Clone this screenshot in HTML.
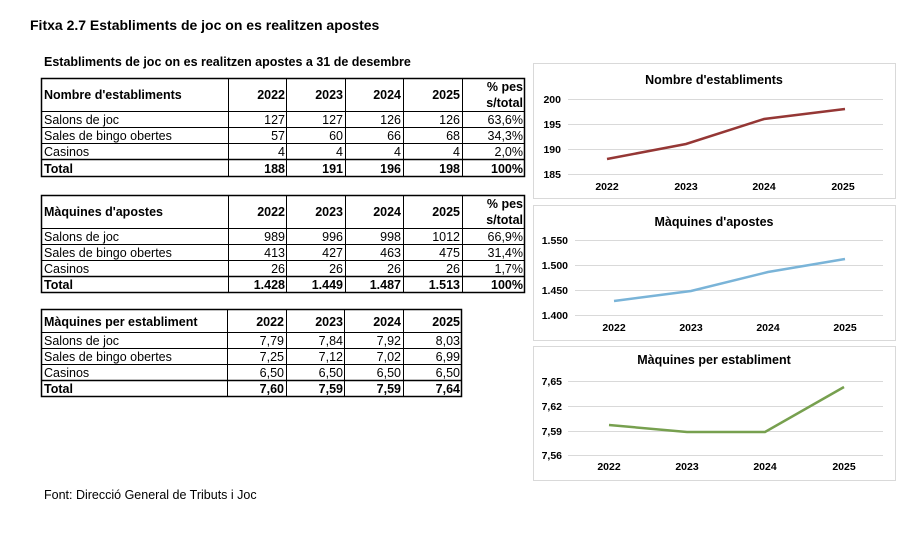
<!DOCTYPE html>
<html><head><meta charset="utf-8"><style>
html,body{margin:0;padding:0;background:#fff}
svg{display:block}
text{font-family:"Liberation Sans",Arial,sans-serif;fill:#000}
</style></head><body>
<svg width="918" height="543" viewBox="0 0 918 543" xmlns="http://www.w3.org/2000/svg">
<text x="30" y="30" font-size="14" font-weight="bold">Fitxa 2.7 Establiments de joc on es realitzen apostes</text>
<text x="44" y="66" font-size="12.5" font-weight="bold">Establiments de joc on es realitzen apostes a 31 de desembre</text>

<!-- Table 1 -->
<g stroke="#000" fill="none">
<rect x="41.5" y="78.5" width="483" height="98" stroke-width="1.5"/>
<line x1="41" y1="111.5" x2="525" y2="111.5"/>
<line x1="41" y1="127.5" x2="525" y2="127.5"/>
<line x1="41" y1="143.5" x2="525" y2="143.5"/>
<line x1="41" y1="159.5" x2="525" y2="159.5" stroke-width="1.5"/>
<line x1="228.5" y1="78" x2="228.5" y2="177"/>
<line x1="286.5" y1="78" x2="286.5" y2="177"/>
<line x1="345.5" y1="78" x2="345.5" y2="177"/>
<line x1="403.5" y1="78" x2="403.5" y2="177"/>
<line x1="462.5" y1="78" x2="462.5" y2="177"/>
</g>
<g font-size="12.5">
<text x="44" y="99" font-weight="bold">Nombre d'establiments</text>
<g font-weight="bold" text-anchor="end"><text x="285" y="99">2022</text><text x="343" y="99">2023</text><text x="401" y="99">2024</text><text x="460" y="99">2025</text><text x="523" y="91">% pes</text><text x="523" y="107">s/total</text></g>
<text x="44" y="124">Salons de joc</text>
<g text-anchor="end"><text x="285" y="124">127</text><text x="343" y="124">127</text><text x="401" y="124">126</text><text x="460" y="124">126</text><text x="523" y="124">63,6%</text></g>
<text x="44" y="140">Sales de bingo obertes</text>
<g text-anchor="end"><text x="285" y="140">57</text><text x="343" y="140">60</text><text x="401" y="140">66</text><text x="460" y="140">68</text><text x="523" y="140">34,3%</text></g>
<text x="44" y="156">Casinos</text>
<g text-anchor="end"><text x="285" y="156">4</text><text x="343" y="156">4</text><text x="401" y="156">4</text><text x="460" y="156">4</text><text x="523" y="156">2,0%</text></g>
<text x="44" y="173" font-weight="bold">Total</text>
<g text-anchor="end" font-weight="bold"><text x="285" y="173">188</text><text x="343" y="173">191</text><text x="401" y="173">196</text><text x="460" y="173">198</text><text x="523" y="173">100%</text></g>
</g>

<!-- Table 2 -->
<g stroke="#000" fill="none">
<rect x="41.5" y="195.5" width="483" height="97" stroke-width="1.5"/>
<line x1="41" y1="228.5" x2="525" y2="228.5"/>
<line x1="41" y1="244.5" x2="525" y2="244.5"/>
<line x1="41" y1="260.5" x2="525" y2="260.5"/>
<line x1="41" y1="276.5" x2="525" y2="276.5" stroke-width="1.5"/>
<line x1="228.5" y1="195" x2="228.5" y2="293"/>
<line x1="286.5" y1="195" x2="286.5" y2="293"/>
<line x1="345.5" y1="195" x2="345.5" y2="293"/>
<line x1="403.5" y1="195" x2="403.5" y2="293"/>
<line x1="462.5" y1="195" x2="462.5" y2="293"/>
</g>
<g font-size="12.5">
<text x="44" y="216" font-weight="bold">Màquines d'apostes</text>
<g font-weight="bold" text-anchor="end"><text x="285" y="216">2022</text><text x="343" y="216">2023</text><text x="401" y="216">2024</text><text x="460" y="216">2025</text><text x="523" y="208">% pes</text><text x="523" y="224">s/total</text></g>
<text x="44" y="241">Salons de joc</text>
<g text-anchor="end"><text x="285" y="241">989</text><text x="343" y="241">996</text><text x="401" y="241">998</text><text x="460" y="241">1012</text><text x="523" y="241">66,9%</text></g>
<text x="44" y="257">Sales de bingo obertes</text>
<g text-anchor="end"><text x="285" y="257">413</text><text x="343" y="257">427</text><text x="401" y="257">463</text><text x="460" y="257">475</text><text x="523" y="257">31,4%</text></g>
<text x="44" y="273">Casinos</text>
<g text-anchor="end"><text x="285" y="273">26</text><text x="343" y="273">26</text><text x="401" y="273">26</text><text x="460" y="273">26</text><text x="523" y="273">1,7%</text></g>
<text x="44" y="289" font-weight="bold">Total</text>
<g text-anchor="end" font-weight="bold"><text x="285" y="289">1.428</text><text x="343" y="289">1.449</text><text x="401" y="289">1.487</text><text x="460" y="289">1.513</text><text x="523" y="289">100%</text></g>
</g>

<!-- Table 3 -->
<g stroke="#000" fill="none">
<rect x="41.5" y="309.5" width="420" height="87" stroke-width="1.5"/>
<line x1="41" y1="332.5" x2="462" y2="332.5"/>
<line x1="41" y1="348.5" x2="462" y2="348.5"/>
<line x1="41" y1="364.5" x2="462" y2="364.5"/>
<line x1="41" y1="380.5" x2="462" y2="380.5" stroke-width="1.5"/>
<line x1="227.5" y1="309" x2="227.5" y2="397"/>
<line x1="286.5" y1="309" x2="286.5" y2="397"/>
<line x1="344.5" y1="309" x2="344.5" y2="397"/>
<line x1="403.5" y1="309" x2="403.5" y2="397"/>
</g>
<g font-size="12.5">
<text x="44" y="326" font-weight="bold">Màquines per establiment</text>
<g font-weight="bold" text-anchor="end"><text x="284" y="326">2022</text><text x="343" y="326">2023</text><text x="401" y="326">2024</text><text x="460" y="326">2025</text></g>
<text x="44" y="345">Salons de joc</text>
<g text-anchor="end"><text x="284" y="345">7,79</text><text x="343" y="345">7,84</text><text x="401" y="345">7,92</text><text x="460" y="345">8,03</text></g>
<text x="44" y="361">Sales de bingo obertes</text>
<g text-anchor="end"><text x="284" y="361">7,25</text><text x="343" y="361">7,12</text><text x="401" y="361">7,02</text><text x="460" y="361">6,99</text></g>
<text x="44" y="377">Casinos</text>
<g text-anchor="end"><text x="284" y="377">6,50</text><text x="343" y="377">6,50</text><text x="401" y="377">6,50</text><text x="460" y="377">6,50</text></g>
<text x="44" y="393" font-weight="bold">Total</text>
<g text-anchor="end" font-weight="bold"><text x="284" y="393">7,60</text><text x="343" y="393">7,59</text><text x="401" y="393">7,59</text><text x="460" y="393">7,64</text></g>
</g>

<text x="44" y="499" font-size="12.5">Font: Direcció General de Tributs i Joc</text>

<!-- Chart 1 -->
<rect x="533.5" y="63.5" width="362" height="135" fill="#fff" stroke="#d9d9d9"/>
<text x="714" y="84" font-size="12.5" font-weight="bold" text-anchor="middle">Nombre d'establiments</text>
<g stroke="#d9d9d9"><line x1="568" y1="99.5" x2="883" y2="99.5"/><line x1="568" y1="124.5" x2="883" y2="124.5"/><line x1="568" y1="149.5" x2="883" y2="149.5"/><line x1="568" y1="174.5" x2="883" y2="174.5"/></g>
<g font-size="10.5" font-weight="bold" text-anchor="end"><text x="561" y="103">200</text><text x="561" y="128">195</text><text x="561" y="153">190</text><text x="561" y="178">185</text></g>
<g font-size="10.5" font-weight="bold" text-anchor="middle"><text x="607" y="190">2022</text><text x="686" y="190">2023</text><text x="764" y="190">2024</text><text x="843" y="190">2025</text></g>
<polyline points="607,159 686,144 764,119 845,109" fill="none" stroke="#953735" stroke-width="2.5"/>

<!-- Chart 2 -->
<rect x="533.5" y="205.5" width="362" height="135" fill="#fff" stroke="#d9d9d9"/>
<text x="714" y="226" font-size="12.5" font-weight="bold" text-anchor="middle">Màquines d'apostes</text>
<g stroke="#d9d9d9"><line x1="575" y1="240.5" x2="883" y2="240.5"/><line x1="575" y1="265.5" x2="883" y2="265.5"/><line x1="575" y1="290.5" x2="883" y2="290.5"/><line x1="575" y1="315.5" x2="883" y2="315.5"/></g>
<g font-size="10.5" font-weight="bold" text-anchor="end"><text x="568" y="244">1.550</text><text x="568" y="269">1.500</text><text x="568" y="294">1.450</text><text x="568" y="319">1.400</text></g>
<g font-size="10.5" font-weight="bold" text-anchor="middle"><text x="614" y="331">2022</text><text x="691" y="331">2023</text><text x="768" y="331">2024</text><text x="845" y="331">2025</text></g>
<polyline points="614,301 691,291 768,272 845,259" fill="none" stroke="#7ab4d8" stroke-width="2.5"/>

<!-- Chart 3 -->
<rect x="533.5" y="346.5" width="362" height="134" fill="#fff" stroke="#d9d9d9"/>
<text x="714" y="364" font-size="12.5" font-weight="bold" text-anchor="middle">Màquines per establiment</text>
<g stroke="#d9d9d9"><line x1="568" y1="381.5" x2="883" y2="381.5"/><line x1="568" y1="406.5" x2="883" y2="406.5"/><line x1="568" y1="431.5" x2="883" y2="431.5"/><line x1="568" y1="455.5" x2="883" y2="455.5"/></g>
<g font-size="10.5" font-weight="bold" text-anchor="end"><text x="562" y="385">7,65</text><text x="562" y="410">7,62</text><text x="562" y="435">7,59</text><text x="562" y="459">7,56</text></g>
<g font-size="10.5" font-weight="bold" text-anchor="middle"><text x="609" y="470">2022</text><text x="687" y="470">2023</text><text x="765" y="470">2024</text><text x="844" y="470">2025</text></g>
<polyline points="609,425 687,432 765,432 844,387" fill="none" stroke="#77a04f" stroke-width="2.5"/>
</svg>
</body></html>
